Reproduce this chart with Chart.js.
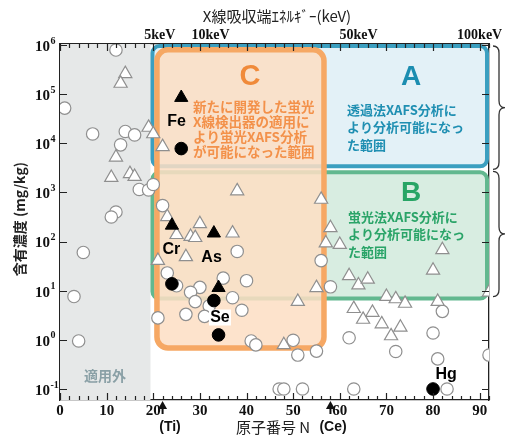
<!DOCTYPE html>
<html>
<head>
<meta charset="utf-8">
<script src="https://cdn.jsdelivr.net/npm/chart.js@4.4.1/dist/chart.umd.min.js"></script>
<style>
  html, body { margin: 0; padding: 0; background: #fff; }
  #wrap { width: 510px; height: 437px; }
</style>
</head>
<body>
<div id="wrap"><canvas id="chart" width="510" height="437"></canvas></div>
<script>
// Atomic number N / concentration (mg/kg)
const openCircleN = [12, 1, 7, 14, 16, 13, 17, 19, 20, 22, 12, 11, 5, 3, 4,
    38, 23, 25, 35, 40, 30, 28, 29, 37, 32, 39, 21, 27, 31, 41, 42, 50, 51, 55,
    56, 58, 62, 47, 48, 52, 63, 82, 80, 72, 81, 92, 83];
const openCircleC = [7.9e5, 5.2e4, 1.55e4, 1.74e4, 1.48e4, 9.3e3, 1150, 1120, 1450, 540, 400, 316, 60, 7.6, 0.95,
    63, 23, 12.6, 18, 16, 11.7, 9.3, 6.0, 7.2, 4.9, 4.0, 2.8, 3.3, 3.0, 0.95, 0.79, 0.98, 0.49, 0.59,
    41, 12, 1.1, 0.1, 0.1, 0.1, 0.1, 3.8, 1.38, 0.58, 0.41, 0.49, 0.1];

const openTriN = [14, 13, 19, 20, 22, 12, 11, 15, 16, 23, 25, 30, 28, 29, 37, 27, 21,
    38, 56, 58, 57, 60, 55, 51, 48, 62, 64, 66, 70, 72, 74, 81, 63, 65, 67, 69, 73, 71, 82, 80, 92];
const openTriC = [2.6e5, 1.65e5, 2.1e4, 1.55e4, 8.5e3, 5.2e3, 2.0e3, 2.4e3, 2.1e3, 320, 138, 230, 126, 120, 148, 49, 41,
    1070, 720, 190, 93, 87, 11.5, 6.0, 0.79, 20, 13, 17, 7.6, 6.8, 5.5, 6.0, 4.3, 2.6, 3.6, 2.1, 1.8, 1.2, 68, 26, 9.3];

// black markers: Fe, Cr, As, Se (triangles) and Fe, Cr, As, Se, Hg (circles)
const filledTriN = [26, 24, 33, 34];
const filledTriC = [8.5e4, 214, 148, 11.5];
const filledCircleN = [26, 24, 33, 34, 80];
const filledCircleC = [7.8e3, 13.8, 6.3, 1.26, 0.1];

const xTicks = [0, 10, 20, 30, 40, 50, 60, 70, 80, 90];
const yTicks = [0.1, 1, 10, 100, 1e3, 1e4, 1e5, 1e6];
const yExponents = ['-1', '0', '1', '2', '3', '4', '5', '6'];
const kevLabels = ['5keV', '10keV', '50keV', '100keV'];
const kevN = [21.4, 32.3, 64, 90];

const SERIF = "'Liberation Serif', 'DejaVu Serif', serif";
const SANS = "'Liberation Sans', Arial, sans-serif";
const JP = "'Noto Sans CJK JP', sans-serif";

function toPoints(xs, ys) {
    return xs.map((x, i) => ({ x: x, y: ys[i] }));
}

function rrect(ctx, x, y, w, h, r) {
    ctx.beginPath();
    ctx.moveTo(x + r, y);
    ctx.arcTo(x + w, y, x + w, y + h, r);
    ctx.arcTo(x + w, y + h, x, y + h, r);
    ctx.arcTo(x, y + h, x, y, r);
    ctx.arcTo(x, y, x + w, y, r);
    ctx.closePath();
}

function drawBox(ctx, x1, y1, x2, y2, fill, stroke, lw, r) {
    const h = lw / 2;
    rrect(ctx, x1 + h, y1 + h, x2 - x1 - lw, y2 - y1 - lw, r);
    ctx.fillStyle = fill;
    ctx.fill();
    ctx.lineWidth = lw;
    ctx.strokeStyle = stroke;
    ctx.stroke();
}

function brace(ctx, x, y1, y2, w) {
    const ym = (y1 + y2) / 2;
    const m = x + w / 2;
    ctx.beginPath();
    ctx.moveTo(x, y1);
    ctx.quadraticCurveTo(m, y1, m, y1 + 7);
    ctx.lineTo(m, ym - 7);
    ctx.quadraticCurveTo(m, ym, x + w, ym);
    ctx.quadraticCurveTo(m, ym, m, ym + 7);
    ctx.lineTo(m, y2 - 7);
    ctx.quadraticCurveTo(m, y2, x, y2);
    ctx.stroke();
}

function text(ctx, str, x, y, font, color, align) {
    ctx.font = font;
    ctx.fillStyle = color;
    ctx.textAlign = align || 'center';
    ctx.textBaseline = 'middle';
    ctx.fillText(str, x, y);
}

// shaded regions A, B, C and the grey "not applicable" band
const regionsPlugin = {
    id: 'regions',
    beforeDatasetsDraw(chart) {
        const ctx = chart.ctx;
        const a = chart.chartArea;
        const X = v => chart.scales.x.getPixelForValue(v);
        const Y = v => chart.scales.y.getPixelForValue(v);
        ctx.save();

        ctx.fillStyle = '#e6e8e8';
        ctx.fillRect(a.left, a.top, X(19.4) - a.left, a.bottom - a.top);

        // A
        drawBox(ctx, X(19.4), a.top, a.right, Y(Math.pow(10, 3.49)), '#e3f1f7', '#3b9fc0', 4, 7);
        // B
        drawBox(ctx, X(19.4), Y(Math.pow(10, 3.45)), a.right, Y(6.3), '#d8ede1', '#62b88f', 4, 7);
        // C
        drawBox(ctx, X(20.2), Y(9.1e5), X(57.2), Y(0.6), 'rgba(253,222,196,0.86)', '#f6a864', 5.5, 11);

        text(ctx, 'C', 250, 77, 'bold 29px ' + SANS, '#f08a3a');
        const cLines = ['新たに開発した蛍光', 'X線検出器の適用に', 'より蛍光XAFS分析', 'が可能になった範囲'];
        cLines.forEach((s, i) => text(ctx, s, 193, 107 + i * 15, 'bold 13.5px ' + JP, '#f3914a', 'left'));

        text(ctx, 'A', 411, 77, 'bold 28px ' + SANS, '#1b8db0');
        const aLines = ['透過法XAFS分析に', 'より分析可能になっ', 'た範囲'];
        aLines.forEach((s, i) => text(ctx, s, 347, 110 + i * 17.5, 'bold 13px ' + JP, '#1f8fb2', 'left'));

        text(ctx, 'B', 411, 193, 'bold 28px ' + SANS, '#28a565');
        const bLines = ['蛍光法XAFS分析に', 'より分析可能になっ', 'た範囲'];
        bLines.forEach((s, i) => text(ctx, s, 348, 217 + i * 17.5, 'bold 13px ' + JP, '#2aa468', 'left'));

        text(ctx, '適用外', 105, 376, 'bold 14px ' + JP, '#8aa0a6');
        ctx.restore();
    }
};

// ticks, labels, titles, element names
const decorPlugin = {
    id: 'decor',
    afterDraw(chart) {
        const ctx = chart.ctx;
        const a = chart.chartArea;
        const X = v => chart.scales.x.getPixelForValue(v);
        const Y = v => chart.scales.y.getPixelForValue(v);
        ctx.save();
        ctx.strokeStyle = '#222';
        ctx.lineWidth = 1.2;

        // inward ticks on bottom and top
        for (let n = 0; n <= 92; n += 2) {
            const len = n % 10 === 0 ? 7 : 4;
            const px = Math.round(X(n)) + 0.5;
            ctx.beginPath();
            ctx.moveTo(px, a.bottom); ctx.lineTo(px, a.bottom - len);
            ctx.moveTo(px, a.top); ctx.lineTo(px, a.top + len);
            ctx.stroke();
        }
        // inward ticks on left and right
        yTicks.forEach(v => {
            const py = Math.round(Y(v)) + 0.5;
            ctx.beginPath();
            ctx.moveTo(a.left, py); ctx.lineTo(a.left + 7, py);
            ctx.moveTo(a.right, py); ctx.lineTo(a.right - 7, py);
            ctx.stroke();
        });

        // y tick labels 10^n
        yTicks.forEach((v, i) => {
            const py = Y(v);
            ctx.font = 'bold 15px ' + SERIF;
            ctx.fillStyle = '#111';
            ctx.textAlign = 'left';
            ctx.textBaseline = 'middle';
            ctx.fillText('10', 35, py + 2);
            const w = ctx.measureText('10').width;
            ctx.font = 'bold 10px ' + SERIF;
            ctx.fillText(yExponents[i], 35 + w + 0.5, py - 4);
        });
        // x tick labels
        xTicks.forEach(n => text(ctx, String(n), X(n), 411, 'bold 15px ' + SERIF, '#111'));
        // keV labels on top
        kevN.forEach((n, i) => text(ctx, kevLabels[i], X(n), 35, 'bold 14px ' + SERIF, '#111'));

        // titles
        text(ctx, 'X線吸収端ｴﾈﾙｷﾞｰ(keV)', 277, 16, '15px ' + JP, '#222');
        text(ctx, '原子番号 N', 273, 427, '15px ' + JP, '#222');
        ctx.save();
        ctx.translate(20, 219);
        ctx.rotate(-Math.PI / 2);
        text(ctx, '含有濃度 (mg/kg)', 0, 0, 'bold 14px ' + JP, '#222');
        ctx.restore();

        // (Ti) and (Ce) arrows
        [[22, '(Ti)', 170], [58, '(Ce)', 333]].forEach(([n, lab, lx]) => {
            const px = X(n);
            ctx.fillStyle = '#111';
            ctx.beginPath();
            ctx.moveTo(px, a.bottom + 1);
            ctx.lineTo(px - 4.5, a.bottom + 9);
            ctx.lineTo(px + 4.5, a.bottom + 9);
            ctx.closePath();
            ctx.fill();
            ctx.fillRect(px - 1, a.bottom + 8, 2, 6);
            text(ctx, lab, lx, 427, 'bold 14px ' + SANS, '#111');
        });

        // right-hand braces
        ctx.lineWidth = 1.3;
        ctx.strokeStyle = '#333';
        brace(ctx, 493, a.top + 2, Y(Math.pow(10, 3.47)), 12);
        brace(ctx, 493, Y(Math.pow(10, 3.47)) + 2, Y(6.3) - 4, 12);

        // element names
        const lab = 'bold 16px ' + SANS;
        text(ctx, 'Fe', X(25), Y(2.7e4), lab, '#000');
        text(ctx, 'Cr', X(23.9), Y(68), lab, '#000');
        text(ctx, 'As', X(32.5), Y(47), lab, '#000');
        ctx.fillStyle = '#fff';
        ctx.fillRect(X(34.3) - 11, Y(2.85) - 8, 22, 16);
        text(ctx, 'Se', X(34.3), Y(2.85), lab, '#000');
        text(ctx, 'Hg', X(82.8), Y(0.195), lab, '#000');
        ctx.restore();
    }
};

const openStyle = {
    backgroundColor: '#ffffff',
    borderColor: '#8f8f8f',
    borderWidth: 1.2
};

new Chart(document.getElementById('chart'), {
    type: 'scatter',
    data: {
        datasets: [
            Object.assign({ data: toPoints(filledCircleN, filledCircleC), pointStyle: 'circle', pointRadius: 6.3,
                backgroundColor: '#000', borderColor: '#000', borderWidth: 1, order: 0 }),
            Object.assign({ data: toPoints(filledTriN, filledTriC), pointStyle: 'triangle', pointRadius: 7.6,
                backgroundColor: '#000', borderColor: '#000', borderWidth: 1, order: 1 }),
            Object.assign({ data: toPoints(openTriN, openTriC), pointStyle: 'triangle', pointRadius: 7.6, order: 2 }, openStyle),
            Object.assign({ data: toPoints(openCircleN, openCircleC), pointStyle: 'circle', pointRadius: 6.2, order: 3 }, openStyle)
        ]
    },
    options: {
        responsive: false,
        animation: false,
        devicePixelRatio: 1,
        layout: { padding: 0 },
        plugins: {
            legend: { display: false },
            tooltip: { enabled: false }
        },
        scales: {
            x: {
                type: 'linear', position: 'bottom', min: 0, max: 92,
                grid: { display: false, drawTicks: false },
                ticks: { display: false },
                border: { display: true, color: '#222', width: 1.3 },
                afterFit: s => { s.height = 37; }
            },
            x2: {
                type: 'linear', position: 'top', min: 0, max: 92,
                grid: { display: false, drawTicks: false },
                ticks: { display: false },
                border: { display: true, color: '#222', width: 1.3 },
                afterFit: s => { s.height = 44; }
            },
            y: {
                type: 'logarithmic', position: 'left', min: 0.0597, max: 1.048e6,
                grid: { display: false, drawTicks: false },
                ticks: { display: false },
                border: { display: true, color: '#222', width: 1.3 },
                afterFit: s => { s.width = 60; }
            },
            y2: {
                type: 'logarithmic', position: 'right', min: 0.0597, max: 1.048e6,
                grid: { display: false, drawTicks: false },
                ticks: { display: false },
                border: { display: true, color: '#222', width: 1.3 },
                afterFit: s => { s.width = 21; }
            }
        }
    },
    plugins: [regionsPlugin, decorPlugin]
});
</script>
</body>
</html>
